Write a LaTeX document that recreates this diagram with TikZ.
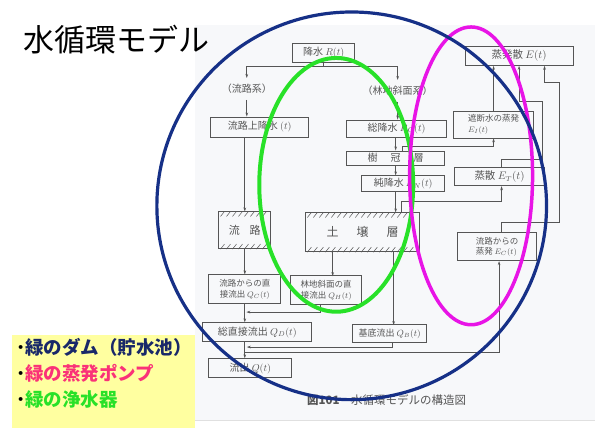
\documentclass[tikz,border=0pt]{standalone}
\usepackage{fontspec}
\setmainfont{Noto Sans CJK JP}
\usetikzlibrary{arrows.meta}

\definecolor{scanline}{RGB}{85,85,85}
\definecolor{scanbg}{RGB}{247,248,250}
\definecolor{ringblue}{RGB}{22,48,135}
\definecolor{ringgreen}{RGB}{40,225,40}
\definecolor{ringmagenta}{RGB}{232,20,230}
\definecolor{notebg}{RGB}{255,255,160}
\definecolor{damblue}{RGB}{25,40,105}
\definecolor{pumppink}{RGB}{250,50,120}

\begin{document}
\begin{tikzpicture}[
    x=1pt, y=-1pt,
    >={Stealth[length=4pt,width=2.6pt]},
    box/.style={draw=scanline, line width=0.7pt, text=scanline, inner sep=0pt,
      font=\fontsize{10}{12}\selectfont},
    smallbox/.style={box, align=center, font=\fontsize{8.5}{10.5}\selectfont},
    branch/.style={text=scanline, inner sep=6pt, font=\fontsize{10}{12}\selectfont},
    flow/.style={draw=scanline, line width=0.7pt},
    hatch/.style={draw=scanline, line width=0.5pt},
    ring/.style={line width=3.5pt},
    note/.style={anchor=west, inner sep=0pt, font=\fontsize{18.5}{20}\selectfont\bfseries}
  ]
  % page and scanned figure
  \fill [white] (0,0) rectangle (595,446);
  \fill [scanbg] (195,25) rectangle (595,421);
  \draw [black!12, line width=1pt] (195,421) -- (595,421);
  \useasboundingbox (0,0) rectangle (595,446);

  % rainfall side
  \node [box, minimum width=62, minimum height=19] (rain) at (324,52.5) {降水 $R(t)$};
  \node [branch] (chsys) at (247,89) {（流路系）};
  \node [branch] (forsys) at (398,91) {（林地斜面系）};
  \node [box, minimum width=98, minimum height=20] (chrain) at (260,127) {流路上降水 $(t)$};
  \node [box, minimum width=100, minimum height=17] (gross) at (397,128.5) {総降水 $R_G(t)$};
  \node [box, minimum width=98, minimum height=14] (canopy) at (396,158) {樹\hspace{1.3em}冠\hspace{1.3em}層};
  \node [box, minimum width=83, minimum height=16] (net) at (403.5,184) {純降水 $R_N(t)$};

  % storage
  \node [box, minimum width=52, minimum height=37, font=\fontsize{11}{13}\selectfont] (channel) at (245,230.5) {流\hspace{0.9em}路};
  \node [box, minimum width=114, minimum height=39, font=\fontsize{12}{14}\selectfont] (soil) at (363,232.5) {土\hspace{1.5em}壌\hspace{1.5em}層};

  % runoff side
  \node [smallbox, minimum width=72, minimum height=29] (qc) at (245,289.5) {流路からの直\\接流出 $Q_C(t)$};
  \node [smallbox, minimum width=71, minimum height=29] (qh) at (326.5,290.5) {林地斜面の直\\接流出 $Q_H(t)$};
  \node [box, minimum width=109, minimum height=19] (qd) at (257.5,332.5) {総直接流出 $Q_D(t)$};
  \node [box, minimum width=74, minimum height=18, font=\fontsize{9}{11}\selectfont] (qb) at (390,334) {基底流出 $Q_B(t)$};
  \node [box, minimum width=83, minimum height=19] (q) at (250.5,368.5) {流出 $Q(t)$};

  % evaporation side
  \node [box, minimum width=108, minimum height=19, font=\fontsize{10.5}{12}\selectfont] (evap) at (519.5,56) {蒸発散 $E(t)$};
  \node [smallbox, align=left, minimum width=80, minimum height=27] (ei) at (494,124.5) {遮断水の蒸発\\$E_I(t)$};
  \node [box, minimum width=90, minimum height=19, font=\fontsize{10.5}{12}\selectfont] (et) at (500,176.5) {蒸散 $E_T(t)$};
  \node [smallbox, align=left, minimum width=79, minimum height=28] (ec) at (497.5,247) {流路からの\\蒸発 $E_C(t)$};

  % hatched storage boxes
  \foreach \i in {0,...,7} {
    \draw [hatch] ([xshift=\i*6pt+6pt]channel.north west) -- ++(-4,5);
    \draw [hatch] ([xshift=\i*6pt+2pt]channel.south west) -- ++(4,-5);
  }
  \foreach \i in {0,...,17} {
    \draw [hatch] ([xshift=\i*6pt+6pt]soil.north west) -- ++(-4,5);
    \draw [hatch] ([xshift=\i*6pt+2pt]soil.south west) -- ++(4,-5);
  }

  % rainfall split
  \coordinate (split) at (324,66);
  \draw [flow] (rain) -- (split);
  \draw [flow, ->] (split) -| (chsys.north);
  \draw [flow, ->] (split) -| (forsys.north);
  \draw [flow, ->] (chsys.south) -- (chsys.south |- chrain.north);
  \draw [flow, ->] (forsys.south) -- (forsys.south |- gross.north);
  \draw [flow, ->] (chrain.south -| channel.north) -- (channel.north);
  \draw [flow, ->] (canopy.north |- gross.south) -- (canopy.north);
  \draw [flow, ->] (canopy.south) -- (canopy.south |- net.north);
  \draw [flow, ->] (canopy.south |- net.south) -- (canopy.south |- soil.north);

  % evaporation paths
  \draw [flow, ->] ([xshift=7pt]canopy.north) -- ++(0,-4) -| (ei.south);
  \draw [flow, ->] ([xshift=39pt]soil.north) -- ++(0,-11) -| ([xshift=2pt]et.south);
  \draw [flow, ->] (ei.north) -- (ei.north |- evap.south);
  \draw [flow, ->] ([xshift=2pt]et.north) -- ++(0,-7) -| ++(41,-58) -| (evap.south);
  \draw [flow, ->] ([xshift=4.5pt]ec.north) -- ++(0,-10) -| ++(58,-140) -| ([xshift=25.5pt]evap.south);

  % runoff paths
  \draw [flow, ->] (channel) -- (qc);
  \draw [flow, ->] ([xshift=-30pt]soil.south) -- ++(0,24);
  \draw [flow, ->] ([xshift=31pt]soil.south) -- ++(0,73);
  \draw [flow, ->] (qc.south) -- (qc.south |- qd.north);
  \draw [flow, ->] ([xshift=-6pt]qh.south) -- ++(0,7) -- ++(-74,0);
  \draw [flow, ->] (qc.south |- qd.south) -- (qc.south |- q.north);
  \draw [flow, ->] ([xshift=3pt]qb.south) -- ++(0,4) -- ++(-146,0);
  \coordinate (outlet) at (245,353);
  \draw [flow, ->] (outlet) -| ([xshift=2pt]ec.south);

  \node [text=scanline, font=\fontsize{11.5}{13}\selectfont] (caption) at (387,400) {\textbf{図101}\quad 水循環モデルの構造図};

  % the three rings
  \draw [ring, ringgreen, line width=4pt] (336.5,185) ellipse [x radius=77, y radius=127];
  \draw [ring, ringmagenta] (471.5,176) ellipse [x radius=61.5, y radius=149];
  \draw [ring, ringblue, line width=3.2pt] (352,206) ellipse [x radius=195, y radius=194];

  % title and notes
  \node [inner sep=0pt, font=\fontsize{31}{31}\selectfont] (title) at (117,40) {水循環モデル};
  \fill [notebg] (12,335) rectangle (195,428);
  \node [note, text=damblue] (dam) at (16,348) {{\color{black}･}緑のダム（貯水池）};
  \node [note, text=pumppink] (pump) at (16,374) {{\color{black}･}緑の蒸発ポンプ};
  \node [note, text=ringgreen] (filter) at (16,400) {{\color{black}･}緑の浄水器};
\end{tikzpicture}
\end{document}
